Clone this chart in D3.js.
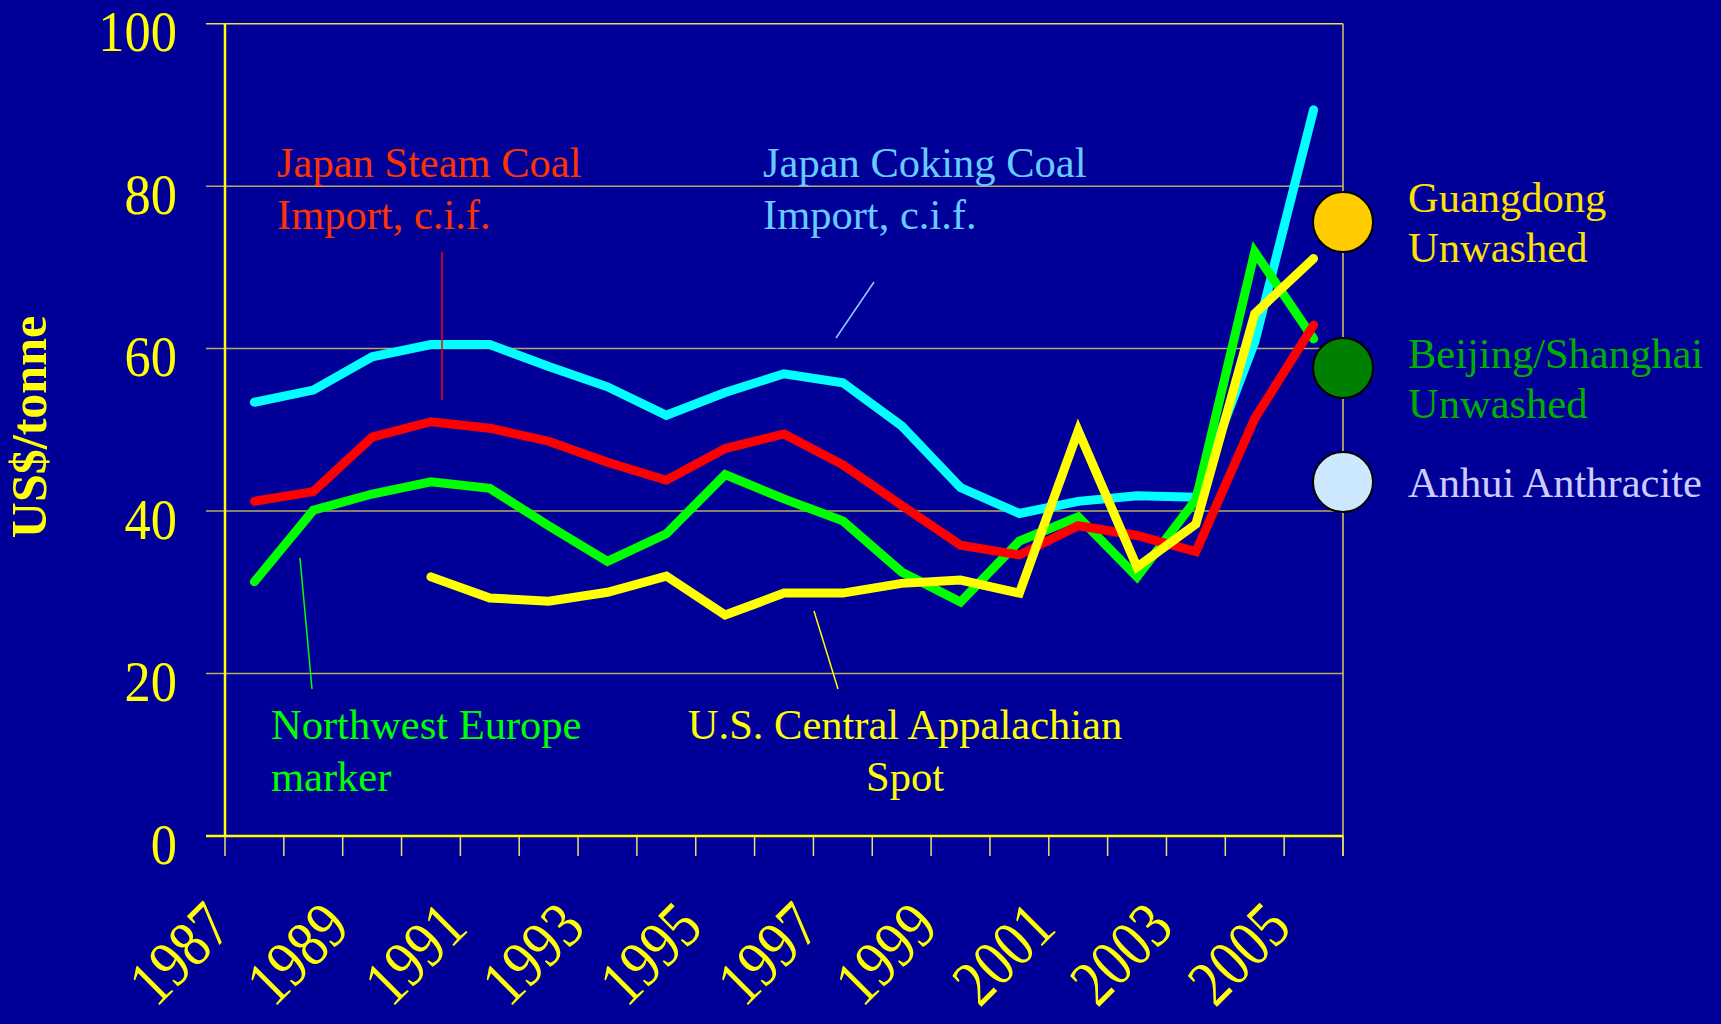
<!DOCTYPE html>
<html>
<head>
<meta charset="utf-8">
<script src="https://cdn.jsdelivr.net/npm/d3@7"></script>
<style>
  html, body { margin: 0; padding: 0; background: #000099; }
  svg { display: block; }
</style>
</head>
<body>
<script>
// years on the category axis, labels shown every other year
const years = [1987, 1988, 1989, 1990, 1991, 1992, 1993, 1994, 1995, 1996,
               1997, 1998, 1999, 2000, 2001, 2002, 2003, 2004, 2005];
const yearLabels = [1987, 1989, 1991, 1993, 1995, 1997, 1999, 2001, 2003, 2005];
const yTicks = [0, 20, 40, 60, 80, 100];

// US$/tonne
const japanCoking = [53.4, 54.9, 59.0, 60.5, 60.5, 57.8, 55.3, 51.8, 54.6, 56.9,
                     55.8, 50.5, 42.9, 39.7, 41.2, 41.9, 41.7, 60.8, 89.4];
const japanSteam = [41.2, 42.4, 49.1, 51.0, 50.2, 48.6, 46.0, 43.8, 47.7, 49.5,
                    45.7, 40.7, 35.8, 34.6, 38.2, 37.0, 35.0, 51.4, 62.9];
const nwEurope = [31.3, 40.1, 42.1, 43.6, 42.8, 38.2, 33.8, 37.2, 44.5, 41.5,
                  38.8, 32.5, 28.8, 36.3, 39.3, 31.9, 41.4, 71.9, 61.2];
const usAppalachian = [null, null, null, 31.9, 29.3, 28.9, 30.0, 32.0, 27.2, 29.9,
                       29.9, 31.1, 31.5, 29.9, 49.9, 33.1, 38.4, 64.3, 71.1];

const legendNames = [['Guangdong', 'Unwashed'], ['Beijing/Shanghai', 'Unwashed'], ['Anhui Anthracite']];

const W = 1721, H = 1024;
const font = '"Liberation Serif", "Times New Roman", serif';

const svg = d3.select('body').append('svg')
    .attr('width', W)
    .attr('height', H);

svg.append('rect')
    .attr('width', W)
    .attr('height', H)
    .attr('fill', '#000099');

const x = d3.scaleBand()
    .domain(years)
    .range([225, 1343]);

const y = d3.scaleLinear()
    .domain([0, 100])
    .range([836, 23.7]);

const cx = d => x(d) + x.bandwidth() / 2;

// grid lines (extend left past the axis as tick marks)
svg.append('g')
    .selectAll('line')
    .data(yTicks.filter(d => d > 0 && d < 100))
    .join('line')
    .attr('x1', 206)
    .attr('x2', 1343)
    .attr('y1', d => y(d))
    .attr('y2', d => y(d))
    .attr('stroke', '#b8ac5c')
    .attr('stroke-width', 1.5);

// top and right frame
svg.append('line')
    .attr('x1', 206).attr('x2', 1343)
    .attr('y1', y(100)).attr('y2', y(100))
    .attr('stroke', '#f0e040').attr('stroke-width', 1.5);

svg.append('line')
    .attr('x1', 1343).attr('x2', 1343)
    .attr('y1', y(100)).attr('y2', y(0) + 20)
    .attr('stroke', '#d8c860').attr('stroke-width', 1.5);

// x tick marks at category boundaries
const bounds = years.map(d => x(d)).concat([x.range()[1]]);
svg.append('g')
    .selectAll('line')
    .data(bounds)
    .join('line')
    .attr('x1', d => d).attr('x2', d => d)
    .attr('y1', y(0)).attr('y2', y(0) + 20)
    .attr('stroke', '#e8e070')
    .attr('stroke-width', 1.5);

// axes
svg.append('line')
    .attr('x1', 225).attr('x2', 225)
    .attr('y1', y(100)).attr('y2', y(0))
    .attr('stroke', '#ffff00').attr('stroke-width', 2.5);

svg.append('line')
    .attr('x1', 206).attr('x2', 1343)
    .attr('y1', y(0)).attr('y2', y(0))
    .attr('stroke', '#ffff00').attr('stroke-width', 2.5);

// y tick labels (slightly condensed digits)
svg.append('g')
    .selectAll('text')
    .data(yTicks)
    .join('text')
    .attr('transform', d => `translate(177,${y(d) + 27.5}) scale(0.92,1)`)
    .attr('text-anchor', 'end')
    .attr('fill', '#ffff00')
    .style('font-family', font)
    .style('font-size', '57px')
    .text(d => d);

// x year labels, rotated
svg.append('g')
    .selectAll('text')
    .data(yearLabels)
    .join('text')
    .attr('transform', d => `translate(${cx(d) - 20},930) rotate(-45) scale(0.84,1)`)
    .attr('text-anchor', 'end')
    .attr('fill', '#ffff00')
    .style('font-family', font)
    .style('font-size', '66px')
    .text(d => d);

// y axis title
svg.append('text')
    .attr('transform', 'translate(46,427) rotate(-90)')
    .attr('text-anchor', 'middle')
    .attr('fill', '#ffff00')
    .style('font-family', font)
    .style('font-size', '50px')
    .style('font-weight', 'bold')
    .text('US$/tonne');

// series lines
const line = d3.line()
    .defined(d => d != null)
    .x((d, i) => cx(years[i]))
    .y(d => y(d));

const series = [
    [japanCoking, '#00ffff'],
    [nwEurope, '#00ff00'],
    [japanSteam, '#ff0000'],
    [usAppalachian, '#ffff00']
];

series.forEach(([values, color]) => {
    svg.append('path')
        .datum(values)
        .attr('fill', 'none')
        .attr('stroke', color)
        .attr('stroke-width', 9)
        .attr('stroke-linecap', 'round')
        .attr('stroke-linejoin', 'miter')
        .attr('d', line);
});

// annotations with leader lines
const notes = [
    { lines: ['Japan Steam Coal', 'Import, c.i.f.'], x: 277, y: 177, anchor: 'start', color: '#ff3300',
      leader: [442, 252, 442, 400], leaderColor: '#ff0000' },
    { lines: ['Japan Coking Coal', 'Import, c.i.f.'], x: 763, y: 177, anchor: 'start', color: '#66ccff',
      leader: [874, 282, 836, 338], leaderColor: '#99ccff' },
    { lines: ['Northwest Europe', 'marker'], x: 271, y: 739, anchor: 'start', color: '#00ff00',
      leader: [300, 558, 312, 689], leaderColor: '#00ff00' },
    { lines: ['U.S. Central Appalachian', 'Spot'], x: 905, y: 739, anchor: 'middle', color: '#ffff00',
      leader: [814, 611, 838, 689], leaderColor: '#ffff00' }
];

notes.forEach(n => {
    svg.append('line')
        .attr('x1', n.leader[0]).attr('y1', n.leader[1])
        .attr('x2', n.leader[2]).attr('y2', n.leader[3])
        .attr('stroke', n.leaderColor)
        .attr('stroke-width', 1.5);

    const t = svg.append('text')
        .attr('text-anchor', n.anchor)
        .attr('fill', n.color)
        .style('font-family', font)
        .style('font-size', '42.5px');
    n.lines.forEach((s, i) => {
        t.append('tspan')
            .attr('x', n.x)
            .attr('y', n.y + i * 52)
            .text(s);
    });
});

// legend on the right
const legendCircle = ['#ffcc00', '#008000', '#cce8ff'];
const legendText = ['#ffe000', '#00b000', '#ccccff'];
const legendY = [222, 368, 482];
const legendBase = [212, 368, 497];

legendNames.forEach((names, k) => {
    svg.append('circle')
        .attr('cx', 1343)
        .attr('cy', legendY[k])
        .attr('r', 30)
        .attr('fill', legendCircle[k])
        .attr('stroke', '#000000')
        .attr('stroke-width', 2);

    const t = svg.append('text')
        .attr('fill', legendText[k])
        .style('font-family', font)
        .style('font-size', '42.5px');
    names.forEach((s, i) => {
        t.append('tspan')
            .attr('x', 1408)
            .attr('y', legendBase[k] + i * 50)
            .text(s);
    });
});
</script>
</body>
</html>
